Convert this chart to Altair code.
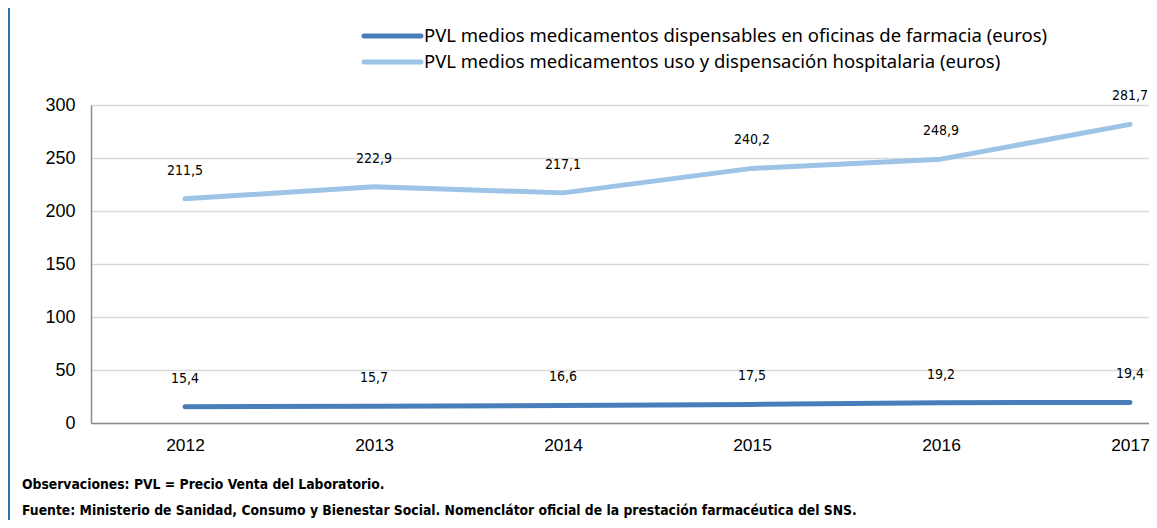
import altair as alt
import pandas as pd

years = [2012, 2013, 2014, 2015, 2016, 2017]
series_names = [
    "PVL medios medicamentos dispensables en oficinas de farmacia (euros)",
    "PVL medios medicamentos uso y dispensación hospitalaria (euros)",
]
farmacia = [15.4, 15.7, 16.6, 17.5, 19.2, 19.4]
hospital = [211.5, 222.9, 217.1, 240.2, 248.9, 281.7]
colors = ["#4a7ebb", "#9dc3e6"]
y_ticks = [0, 50, 100, 150, 200, 250, 300]
notes = [
    "Observaciones: PVL = Precio Venta del Laboratorio.",
    "Fuente: Ministerio de Sanidad, Consumo y Bienestar Social. Nomenclátor oficial de la prestación farmacéutica del SNS.",
]

rows = []
for name, vals in zip(series_names, [farmacia, hospital]):
    for yr, v in zip(years, vals):
        rows.append({"year": yr, "value": v, "series": name,
                     "label": f"{v:.1f}".replace(".", ",")})
df = pd.DataFrame(rows)

leg = pd.DataFrame({"series": series_names, "ly": [-69, -43]})
notes_df = pd.DataFrame({"note": notes, "ny": [380, 406]})

color_scale = alt.Scale(domain=series_names, range=colors)
x_scale = alt.Scale(domain=[2011.50265, 2017.1005], nice=False, zero=False)

base = alt.Chart(df)

lines = base.mark_line(strokeWidth=5, strokeCap="round", strokeJoin="round").encode(
    x=alt.X("year:Q", scale=x_scale,
            axis=alt.Axis(values=years, format="d", title=None, grid=False, ticks=False,
                          labelFontSize=17.4, labelFont="Liberation Sans", labelColor="#000000",
                          labelPadding=13, domainColor="#8c8c8c", domainWidth=1.5)),
    y=alt.Y("value:Q", scale=alt.Scale(domain=[0, 300], nice=False),
            axis=alt.Axis(values=y_ticks, title=None, ticks=False, labelFontSize=18,
                          labelFont="Liberation Sans", labelColor="#000000", labelPadding=16,
                          domainColor="#8c8c8c", domainWidth=1.5,
                          gridColor="#d9d9d9", gridWidth=1.5)),
    color=alt.Color("series:N", scale=color_scale, legend=None),
    detail="series:N",
)

labels = base.mark_text(dy=-28, fontSize=14, font="DejaVu Sans Condensed",
                        color="#000000").encode(
    x=alt.X("year:Q", scale=x_scale),
    y=alt.Y("value:Q"),
    text="label:N",
)

leg_rule = alt.Chart(leg).mark_rule(strokeWidth=5, strokeCap="round").encode(
    x=alt.value(273), x2=alt.value(330),
    y=alt.Y("ly:Q", scale=None),
    color=alt.Color("series:N", scale=color_scale, legend=None),
)
leg_text = alt.Chart(leg).mark_text(align="left", baseline="middle", fontSize=18.5,
                                    font="Noto Sans", color="#000000").encode(
    x=alt.value(333),
    y=alt.Y("ly:Q", scale=None),
    text="series:N",
)

note_text = alt.Chart(notes_df).mark_text(align="left", baseline="middle", fontSize=13.8,
                                          fontWeight="bold", font="DejaVu Sans Condensed",
                                          color="#000000").encode(
    x=alt.value(-69),
    y=alt.Y("ny:Q", scale=None),
    text="note:N",
)

border = alt.Chart(leg).mark_rule(strokeWidth=2, color="#2e6fb0").encode(
    x=alt.value(-82), y=alt.value(-97), y2=alt.value(415),
)

chart = alt.layer(lines, labels, leg_rule, leg_text, note_text, border).properties(
    width=1058, height=318,
    autosize=alt.AutoSizeParams(type="none"),
    padding={"left": 83, "top": 97, "right": 0, "bottom": 97},
).configure_view(stroke=None).configure(background="#ffffff")

chart.save("out.html", embed_options={"renderer": "svg", "actions": False})
